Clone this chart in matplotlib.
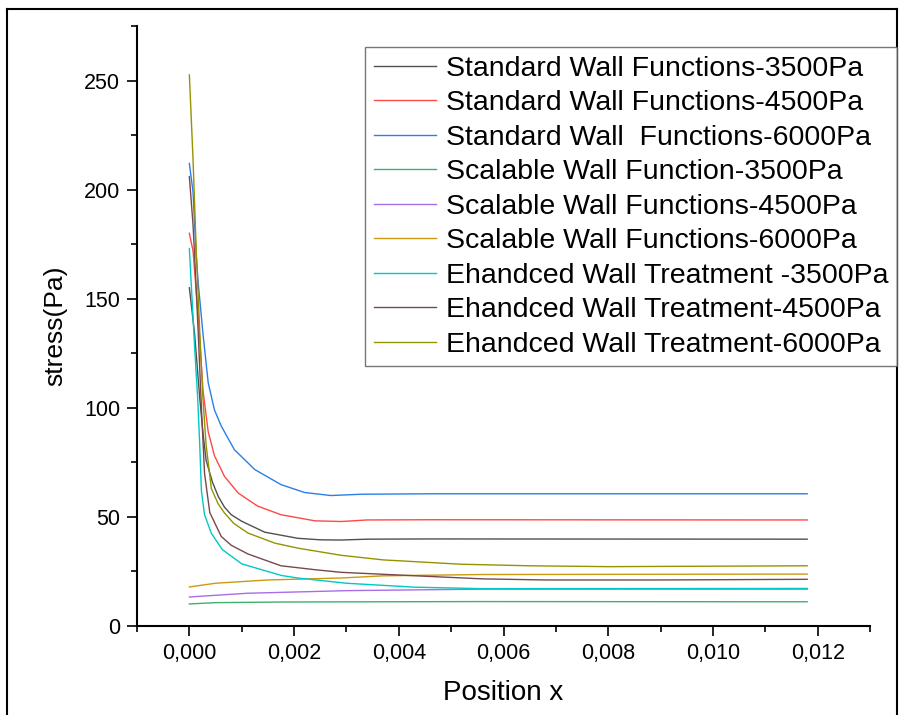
import matplotlib
matplotlib.use("Agg")
import matplotlib.pyplot as plt
from matplotlib.ticker import MultipleLocator, FuncFormatter
from matplotlib.lines import Line2D

plt.rcParams['font.family'] = ['Liberation Sans', 'DejaVu Sans']

# Standard wall functions
x_std3500 = [0, 0.0001, 0.0002, 0.00026, 0.00032, 0.00044, 0.00055, 0.00067, 0.0008, 0.001, 0.00144, 0.00207, 0.0025, 0.0029, 0.0034, 0.0046, 0.0118]
y_std3500 = [155, 134, 104, 88.5, 76, 66, 59.5, 54.5, 51, 48, 43, 40.2, 39.5, 39.4, 39.8, 39.9, 39.8]
x_std4500 = [0, 0.00007, 0.00017, 0.00026, 0.00036, 0.00048, 0.00067, 0.00093, 0.0013, 0.00175, 0.0024, 0.0029, 0.0034, 0.0046, 0.0118]
y_std4500 = [180, 172, 142, 108, 89, 78, 68.6, 61, 55, 51, 48.2, 47.9, 48.6, 48.7, 48.6]
x_std6000 = [0, 0.00007, 0.00013, 0.00017, 0.00026, 0.00036, 0.00048, 0.00061, 0.00086, 0.00125, 0.00175, 0.0022, 0.0027, 0.0033, 0.0046, 0.0118]
y_std6000 = [212, 199, 170, 157, 134, 111.5, 99, 91.6, 80.8, 71.7, 64.8, 61.2, 59.8, 60.4, 60.6, 60.6]

# Scalable wall functions
x_sc3500 = [0, 0.0005, 0.0018, 0.0055, 0.0118]
y_sc3500 = [10.1, 10.7, 11.0, 11.2, 11.1]
x_sc4500 = [0, 0.0011, 0.003, 0.0056, 0.0118]
y_sc4500 = [13.3, 15.0, 16.2, 16.9, 16.9]
x_sc6000 = [0, 0.0005, 0.0015, 0.0029, 0.0037, 0.0056, 0.0118]
y_sc6000 = [17.9, 19.6, 21.1, 22.0, 23.0, 23.6, 23.8]

# Enhanced wall treatment
x_ew3500 = [0, 0.0001, 0.00016, 0.0002, 0.00023, 0.00029, 0.00042, 0.00063, 0.001, 0.00175, 0.00207, 0.003, 0.0043, 0.0056, 0.0118]
y_ew3500 = [173, 128, 104, 82, 62, 51, 42.5, 35, 28.5, 23.2, 22, 19.6, 17.8, 17.1, 17.2]
x_ew4500 = [0, 0.00007, 0.0001, 0.00017, 0.00023, 0.00029, 0.00039, 0.00061, 0.0008, 0.00112, 0.00175, 0.0024, 0.0029, 0.0037, 0.0056, 0.0068, 0.009, 0.0118]
y_ew4500 = [206, 184, 170, 134, 100, 70, 52, 41, 37, 33, 27.6, 25.8, 24.6, 23.7, 21.6, 21.1, 21.1, 21.4]
x_ew6000 = [0, 0.00007, 0.00013, 0.0002, 0.00026, 0.00032, 0.00042, 0.00055, 0.00067, 0.00085, 0.00112, 0.00163, 0.00207, 0.0029, 0.0037, 0.0052, 0.0065, 0.008, 0.0118]
y_ew6000 = [252.6, 214, 173, 134, 104, 83, 63, 56, 51.8, 47, 42.6, 38, 35.7, 32.4, 30.3, 28.3, 27.6, 27.2, 27.6]

labels = ["Standard Wall Functions-3500Pa", "Standard Wall Functions-4500Pa",
          "Standard Wall  Functions-6000Pa", "Scalable Wall Function-3500Pa",
          "Scalable Wall Functions-4500Pa", "Scalable Wall Functions-6000Pa",
          "Ehandced Wall Treatment -3500Pa", "Ehandced Wall Treatment-4500Pa",
          "Ehandced Wall Treatment-6000Pa"]
xs = [x_std3500, x_std4500, x_std6000, x_sc3500, x_sc4500, x_sc6000, x_ew3500, x_ew4500, x_ew6000]
ys = [y_std3500, y_std4500, y_std6000, y_sc3500, y_sc4500, y_sc6000, y_ew3500, y_ew4500, y_ew6000]
colors = ["#505050", "#ff4848", "#2a7fe8", "#40b070", "#a86ee8", "#cc9a10", "#00c8c8", "#7a4848", "#949400"]

fig = plt.figure(figsize=(9.04, 7.15), dpi=100)
ax = fig.add_axes([137/904, 1-626/715, (870-137)/904, (626-26)/715])

for x, y, c, lab in zip(xs, ys, colors, labels):
    ax.plot(x, y, color=c, lw=1.0, label=lab)

ax.set_xlim(-0.001, 0.013)
ax.set_ylim(0, 275)
ax.xaxis.set_major_locator(MultipleLocator(0.002))
ax.xaxis.set_minor_locator(MultipleLocator(0.001))
ax.yaxis.set_major_locator(MultipleLocator(50))
ax.yaxis.set_minor_locator(MultipleLocator(25))
ax.xaxis.set_major_formatter(FuncFormatter(lambda v, p: ("%.3f" % v).replace(".", ",") if v >= -1e-9 else ""))
ax.yaxis.set_major_formatter(FuncFormatter(lambda v, p: "%d" % v))

for s in ["top", "right"]:
    ax.spines[s].set_visible(False)
for s in ["left", "bottom"]:
    ax.spines[s].set_linewidth(1.5)
ax.tick_params(which="major", direction="out", length=7, width=1.2, labelsize=15.5, pad=5)
ax.tick_params(which="minor", direction="out", length=4, width=1.2)

ax.set_xlabel("Position x", fontsize=20, labelpad=12)
ax.set_ylabel("stress(Pa)", fontsize=19, labelpad=12)

leg = fig.legend(loc="upper left", bbox_to_anchor=(365/904, 1-47/715), fontsize=20.5,
                 frameon=True, fancybox=False, borderaxespad=0, borderpad=0.3,
                 handlelength=2.2, handletextpad=0.35, labelspacing=0.3)
leg.get_frame().set_edgecolor("#555555")
leg.get_frame().set_linewidth(1.0)

# outer frame around the whole picture
fig.add_artist(Line2D([7/904, 7/904], [0, 1-9/715], color="black", lw=1.5, transform=fig.transFigure))
fig.add_artist(Line2D([7/904, 897/904], [1-9/715, 1-9/715], color="black", lw=1.5, transform=fig.transFigure))
fig.add_artist(Line2D([897/904, 897/904], [0, 1-9/715], color="black", lw=1.5, transform=fig.transFigure))

fig.savefig("out.png", dpi=100)
